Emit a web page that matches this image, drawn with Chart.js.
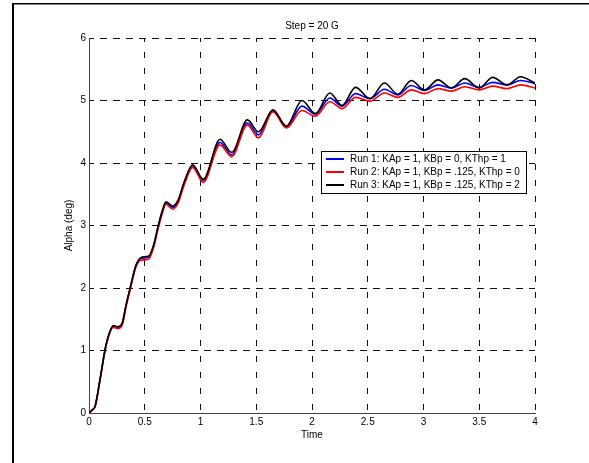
<!DOCTYPE html>
<html><head><meta charset="utf-8">
<script src="https://cdn.jsdelivr.net/npm/chart.js@4"></script>
<style>html,body{margin:0;padding:0;background:#fff;}canvas{display:block}</style>
</head><body>
<canvas id="c" width="589" height="463"></canvas>
<script>
const chartTitle = 'Step = 20 G';
const xTitle = 'Time';
const yTitle = 'Alpha (deg)';
const seriesLabels = [
  'Run 1: KAp = 1, KBp = 0, KThp = 1',
  'Run 2: KAp = 1, KBp = .125, KThp = 0',
  'Run 3: KAp = 1, KBp = .125, KThp = 2'
];
const seriesColors = ['#0000ff', '#ff0000', '#000000'];
const xTicks = [0, 0.5, 1, 1.5, 2, 2.5, 3, 3.5, 4];
const yTicks = [0, 1, 2, 3, 4, 5, 6];

const time = [0, 0.03, 0.055, 0.1, 0.15, 0.2, 0.22, 0.26, 0.3, 0.33, 0.37, 0.42, 0.46, 0.5, 0.54, 0.58, 0.62, 0.66, 0.69, 0.75, 0.8, 0.85, 0.93, 1.025, 1.175, 1.28, 1.42, 1.52, 1.65, 1.77, 1.91, 2.03, 2.16, 2.27, 2.39, 2.52, 2.65, 2.77, 2.89, 3.01, 3.13, 3.25, 3.37, 3.5, 3.62, 3.75, 3.87, 4.0];
const run1 = [0, 0.05, 0.11, 0.55, 1.06, 1.35, 1.39, 1.37, 1.44, 1.70, 2.00, 2.35, 2.47, 2.48, 2.50, 2.68, 2.98, 3.24, 3.36, 3.29, 3.39, 3.66, 3.94, 3.72, 4.33, 4.13, 4.64, 4.45, 4.83, 4.58, 4.91, 4.78, 5.04, 4.91, 5.11, 5.03, 5.18, 5.09, 5.24, 5.16, 5.25, 5.20, 5.28, 5.21, 5.29, 5.25, 5.32, 5.27];
const run2 = [0, 0.05, 0.10, 0.54, 1.05, 1.34, 1.37, 1.35, 1.42, 1.68, 1.98, 2.33, 2.44, 2.45, 2.47, 2.65, 2.95, 3.21, 3.34, 3.26, 3.36, 3.63, 3.93, 3.69, 4.29, 4.10, 4.61, 4.40, 4.82, 4.56, 4.84, 4.75, 4.98, 4.87, 5.05, 4.99, 5.12, 5.05, 5.17, 5.11, 5.19, 5.15, 5.22, 5.17, 5.23, 5.19, 5.25, 5.20];
const run3 = [0, 0.05, 0.11, 0.55, 1.07, 1.36, 1.40, 1.38, 1.45, 1.71, 2.01, 2.36, 2.48, 2.50, 2.52, 2.69, 2.99, 3.25, 3.38, 3.31, 3.41, 3.68, 3.97, 3.74, 4.38, 4.17, 4.69, 4.50, 4.85, 4.59, 5.00, 4.79, 5.12, 4.92, 5.21, 5.03, 5.28, 5.10, 5.32, 5.17, 5.33, 5.20, 5.35, 5.20, 5.37, 5.25, 5.38, 5.28];

const seriesValues = [run1, run2, run3];
const FONT = '"Liberation Sans", Arial, Helvetica, sans-serif';

const datasets = seriesValues.map((vals, i) => ({
  label: seriesLabels[i],
  data: time.map((t, j) => ({x: t, y: vals[j]})),
  borderColor: seriesColors[i],
  backgroundColor: seriesColors[i],
  borderWidth: 1.6,
  pointRadius: 0,
  fill: false,
  cubicInterpolationMode: 'monotone',
  order: 2 - i
}));

const framePlugin = {
  id: 'frame',
  beforeDraw(chart) {
    const ctx = chart.ctx;
    ctx.save();
    ctx.fillStyle = '#fff';
    ctx.fillRect(0, 0, chart.width, chart.height);
    ctx.fillStyle = '#000';
    ctx.fillRect(12, 3, chart.width - 12, 1.5);
    ctx.fillRect(12, 3, 2, chart.height - 3);
    ctx.restore();
  }
};

const legendBoxPlugin = {
  id: 'legendBox',
  afterDatasetsDraw(chart) {
    const ctx = chart.ctx;
    const a = chart.chartArea;
    const bx = a.right - 214, by = a.top + 113, bw = 205, bh = 42;
    ctx.save();
    ctx.fillStyle = '#fff';
    ctx.fillRect(bx, by, bw, bh);
    ctx.strokeStyle = '#000';
    ctx.lineWidth = 1;
    ctx.strokeRect(bx + 0.5, by + 0.5, bw, bh);
    ctx.font = '10px ' + FONT;
    ctx.textBaseline = 'middle';
    ctx.textAlign = 'left';
    chart.data.datasets.forEach((ds, i) => {
      const y = by + 8 + i * 13;
      ctx.strokeStyle = ds.borderColor;
      ctx.lineWidth = 2;
      ctx.beginPath();
      ctx.moveTo(bx + 5, y);
      ctx.lineTo(bx + 23, y);
      ctx.stroke();
      ctx.fillStyle = '#000';
      ctx.fillText(ds.label, bx + 29, y);
    });
    ctx.restore();
  }
};

new Chart(document.getElementById('c'), {
  type: 'line',
  data: { datasets },
  plugins: [framePlugin, legendBoxPlugin],
  options: {
    responsive: false,
    animation: false,
    devicePixelRatio: 1,
    layout: { padding: { left: 50, right: 54, top: 20, bottom: 0 } },
    plugins: {
      legend: { display: false },
      tooltip: { enabled: false },
      title: {
        display: true,
        text: chartTitle,
        fullSize: false,
        color: '#000',
        font: { family: FONT, size: 10, weight: 'normal' },
        padding: { top: 0, bottom: 6 }
      }
    },
    scales: {
      x: {
        type: 'linear',
        min: xTicks[0],
        max: xTicks[xTicks.length - 1],
        afterFit(s) { s.height = 50; },
        afterBuildTicks(s) { s.ticks = xTicks.map(v => ({value: v})); },
        ticks: { color: '#000', font: { family: FONT, size: 10 }, padding: 3, maxRotation: 0, autoSkip: false,
                 callback: v => String(v) },
        grid: { color: '#111', lineWidth: 1, drawTicks: false },
        border: { display: true, color: '#444', width: 1, dash: [6, 10], dashOffset: 2 },
        title: { display: true, text: xTitle, color: '#000', font: { family: FONT, size: 10 }, padding: { top: 0, bottom: 22 } }
      },
      y: {
        type: 'linear',
        min: yTicks[0],
        max: yTicks[yTicks.length - 1],
        afterFit(s) { s.width = 39; },
        afterBuildTicks(s) { s.ticks = yTicks.map(v => ({value: v})); },
        ticks: { color: '#000', font: { family: FONT, size: 10 }, padding: 3, autoSkip: false,
                 callback: v => String(v) },
        grid: { color: '#111', lineWidth: 1, drawTicks: false },
        border: { display: true, color: '#444', width: 1, dash: [7, 6], dashOffset: 3 },
        title: { display: true, text: yTitle, color: '#000', font: { family: FONT, size: 10 }, padding: { top: 13, bottom: 0 } }
      }
    }
  }
});
</script>
</body></html>
